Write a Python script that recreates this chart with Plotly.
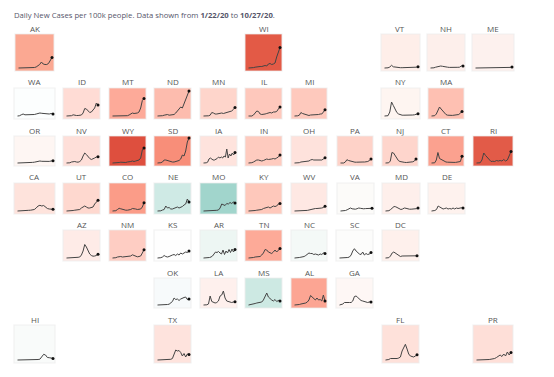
import plotly.graph_objects as go

W, H = 554, 377

title_plain = "Daily New Cases per 100k people. Data shown from "
date_start = "1/22/20"
date_end = "10/27/20"

AK = [0,0,0,0,.3,.3,.2,.3,.3,.5,1,2,3.5,6,4,3.5,3.5,4.5,7.5,10.5]
WI = [0,0,.2,.4,.8,1.2,1,1.5,1.5,2,2.5,2,4,4.5,3.5,4,5,11,15,20.5]
VT = [0,0,.2,1,2.7,1.2,.8,.5,.4,.3,.3,.3,.3,.3,.4,.4,.5,.5,.8,1.3]
NH = [0,0,.2,.8,1.2,1.8,2,1.7,1.2,1,.8,.6,.5,.5,.5,.6,.7,.8,2,2]
ME = [0,0,0,.2,.4,.5,.6,.6,.4,.3,.3,.3,.3,.3,.3,.3,.3,.3,.6,1]
WA = [0,.2,1.2,2,1.2,1.2,1,1,1.5,1.5,2,2.5,3,2.7,2.5,2,2.3,2,2.5,2]
ID = [0,0,0,.3,1.2,.5,.5,.5,.5,1,3,7.5,7,5,3.5,4,6,8,13,11]
MT = [0,0,0,.3,.3,0,0,0,0,.3,1,2,3,2.5,2.5,3,4,8,15.5,17.5]
ND = [0,0,0,.3,.8,1.5,1.5,.8,.8,1,1.5,3,5,6,9,8,12,17,21,25]
MN = [0,0,0,.2,.8,3.5,3,2,2,2.5,3,3,2.5,3,3.5,4,4,5,6.5,8.5]
IL = [0,0,0,1,3,5,4.5,2,1.5,1.5,2,2.5,3,3.5,3,4,4,4.5,7,9]
MI = [0,0,.2,.8,3.5,2.5,2,1.5,.8,.5,1,1,1.5,1.5,1.5,1.5,2,2,4,6.2]
NY = [0,0,.3,4,14,10.5,6,3.5,2,1.2,.8,.8,.7,.7,.7,.8,1,1.2,1.8,2.3]
MA = [0,0,.3,2,6,9,7,5,3,1.5,.8,.6,.6,.6,.8,1,1,1.5,3,4.5]
OR = [0,0,0,.1,.2,.2,.2,.4,.6,.8,1.2,2,2,1.7,1.5,1.3,1.5,1.6,2,2.3]
NV = [0,0,.2,1,1.5,1.5,1,.8,1.5,3,7,10,8.5,6,4.5,3.5,4,5,6,6.3]
WY = [0,0,.2,.3,.5,.8,.5,.5,.5,1,1,1.5,2,1.5,2,2.5,3,5,13,15]
SD = [0,0,.3,1,3,3,2.5,1.5,1,1,1,1.5,2,2.5,4,8,7,12,21,25]
IA = [0,0,.2,.8,4,5,3.5,3,3,3.5,4.5,6,5,6,5,7,6,14,5,9,7,10,8,10.5]
IN = [0,0,.3,1,2,3,3,2.5,2,2.5,3,4,3.5,3.5,4,4.5,4,5,6,8]
OH = [0,0,0,.3,1,1.2,1,1,1.5,2,3,3.5,3,3,2.8,2.5,2.5,3,4,5.3]
PA = [0,0,0,1,3.3,2.5,2,1.2,1,.8,.8,1,1,1,1,1,1.2,1.5,2.5,4]
NJ = [0,0,.2,2,10.5,10,7,4,2.5,1.5,1,.8,.6,.5,.5,.6,.8,1.2,2,4]
CT = [0,0,.2,3,10.5,4.5,3.5,2.5,1.5,1,.8,.6,.5,.5,.6,.6,1,1,1.5,6.8]
RI = [0,0,.2,3,10,7.5,5.5,3.5,1.5,1.8,1.5,2.5,2,2.5,2,3.5,2,3,7,11.5]
CA = [0,0,0,.2,.5,.5,.7,.8,1,1.5,3,5,5.7,5,5.5,4,2.5,2,1.8,1.7]
UT = [0,0,.2,.5,.5,.8,1,1,1.5,3,4.5,5,4,3,3,3.5,4,7,9,10.7]
CO = [0,0,.3,1.5,2.7,2.2,1.5,1,.8,.8,1,1.5,2.5,2.5,2,1.5,1.5,2,4,8.3]
NE = [0,0,.2,1,1.5,5,3,3.5,2,2,2.5,3,4,3,3.5,4.5,6,7,12,9]
MO = [0,0,0,.3,.3,.5,.5,.5,.7,1,3,7,6,5.5,7.5,7,8.5,7.5,9,8]
KY = [0,0,0,.3,.5,.8,.8,1,1.5,2.5,3,3,4,3,4,5,4.5,5,7,7.5]
WV = [0,0,0,.1,.2,.3,.4,.5,.6,1,1.5,2,2.2,2.5,2.5,2.5,2.7,3,3.5,4.7]
VA = [0,0,.1,.5,1.2,2.5,3,2.2,1.8,1.8,2.3,3,2.7,2.3,2.2,2.4,2.3,2.2,2.5,2.7]
MD = [0,0,.3,1.5,3,4.5,4.2,3,2,1.5,2,3,2.7,2,1.8,1.8,1.8,2,2.3,3]
DE = [0,0,.5,1.5,5,4,3,2,2.5,3,2,2.5,2,3,2,3,2.5,3,3.2,3]
AZ = [0,0,0,.2,.3,.5,.6,.7,1,3,7,13.5,11,7,4,2.5,1.8,2,2.5,3.8]
NM = [0,0,.3,1,1.5,1.5,1,1.2,1.5,1.8,1.5,2,3.2,2.5,1.5,1.2,1.5,2,5,8.3]
KS = [0,0,.3,1,2.5,1.5,1,1.5,2.5,3,3.5,2.5,4,3,5,4,5,6,5.5,7]
AR = [0,0,0,.3,.5,1,2,4,6,5.5,6.5,5,4,8,3.5,7,5,8.5,5.5,9,6,8.5]
TN = [0,0,.2,.5,1,1,1.2,1.5,3,5,8.5,8,6,5.5,4.5,6,8,6,8,9.5]
NC = [0,0,.2,.5,.8,1,1.5,2.5,4,5,4.5,4.5,3.5,4,3.5,3,4,3.5,5,4.5]
SC = [0,0,0,.2,.3,.5,1,3,7,9.3,7,5,4,3.5,6,3,4.5,3.5,4,5.5]
DC = [0,0,.3,2,5,6,5,3.5,2.5,1.5,2,2,1.5,1.7,1.5,1.5,1.5,2,2,2.2]
OK = [0,0,0,.1,.2,.3,.5,.8,2,3.5,7,5.5,6,4.5,6,7,7.5,8,5.5,6]
LA = [0,0,.2,1,9,3.5,2.5,2,2.5,4,9,10,14,7,4,3.5,3,2.5,3,3.3]
MS = [0,.2,.5,1,1.5,2,2.5,3,3,5,9,12,8,6,5,4,5.5,3.5,4.5,4]
AL = [0,0,.3,.5,1,1.2,1.5,2,3,5,9.5,8,7,5,7,5,5.5,4,10,4]
GA = [0,.3,1,2.5,2.3,2.3,2.5,2.5,4,8.5,9,7.5,6,4.5,4,3.5,3,2.5,3,3]
HI = [0,0,0,.1,.2,.1,.1,.1,.1,.2,.3,.5,.8,3,5.7,5,2.5,2.3,1.8,1.6]
TX = [0,0,0,.1,.2,.3,.5,.5,.7,1.5,5,10,9,9.5,7.5,4,6.5,3,6,5.5]
FL = [0,.1,.5,1.5,1.5,1,1.2,1.5,2,3,9,13,15.7,11,6,4,3.5,3,4,5.3]
PR = [0,0,0,0,.1,.2,.3,.5,.8,1,1.5,2.5,3.5,5,3.5,6,4,8,5,7.5]

series = {
    "AK":AK,"WI":WI,"VT":VT,"NH":NH,"ME":ME,"WA":WA,"ID":ID,"MT":MT,"ND":ND,"MN":MN,"IL":IL,"MI":MI,
    "NY":NY,"MA":MA,"OR":OR,"NV":NV,"WY":WY,"SD":SD,"IA":IA,"IN":IN,"OH":OH,"PA":PA,"NJ":NJ,"CT":CT,
    "RI":RI,"CA":CA,"UT":UT,"CO":CO,"NE":NE,"MO":MO,"KY":KY,"WV":WV,"VA":VA,"MD":MD,"DE":DE,"AZ":AZ,
    "NM":NM,"KS":KS,"AR":AR,"TN":TN,"NC":NC,"SC":SC,"DC":DC,"OK":OK,"LA":LA,"MS":MS,"AL":AL,"GA":GA,
    "HI":HI,"TX":TX,"FL":FL,"PR":PR,
}

colors = {
    "AK":"#fba892","WI":"#e35a46","VT":"#feeee9","NH":"#fdefeb","ME":"#fdf1ee","WA":"#fcfefe","ID":"#ffdcd5",
    "MT":"#fdaa99","ND":"#fdbcae","MN":"#fed5cb","IL":"#fec8bc","MI":"#fec9bd","NY":"#fef5f1","MA":"#fec0b2",
    "OR":"#fef6f3","NV":"#fedfd9","WY":"#de4f3e","SD":"#f88e79","IA":"#fee3dd","IN":"#fecbbf","OH":"#fee2dc",
    "PA":"#fed2c8","NJ":"#fed5cc","CT":"#fba18f","RI":"#e25b48","CA":"#fee3dc","UT":"#fed8cf","CO":"#fb9c88",
    "NE":"#cfeae5","MO":"#a1d5cc","KY":"#fec8bb","WV":"#fee8e3","VA":"#fcfbf9","MD":"#feefeb","DE":"#fef2ee",
    "AZ":"#feebe7","NM":"#fecdc3","KS":"#fefefe","AR":"#edf6f3","TN":"#fdaa98","NC":"#f4f9f7","SC":"#fcfcfb",
    "DC":"#fef0ec","OK":"#f7fafb","LA":"#fef0ed","MS":"#cde9e3","AL":"#fca593","GA":"#fef7f5","HI":"#f9fbfa",
    "TX":"#fee3dd","FL":"#fee1da","PR":"#fedfd8",
}

# panel boxes in pixels: (left, right) per state, (top, bottom) per row
rows = [
    ((34, 71), {"AK":(15,54),"WI":(245,282),"VT":(381,420),"NH":(427,465),"ME":(472,514)}),
    ((88, 119), {"WA":(14,55),"ID":(63,100),"MT":(109,146),"ND":(154,191),"MN":(200,237),"IL":(245,282),
                 "MI":(291,327),"NY":(381,420),"MA":(428,464)}),
    ((136, 166), {"OR":(14,55),"NV":(63,100),"WY":(109,146),"SD":(154,191),"IA":(200,237),"IN":(245,282),
                  "OH":(291,327),"PA":(337,373),"NJ":(382,418),"CT":(428,464),"RI":(473,513)}),
    ((183, 214), {"CA":(14,55),"UT":(63,100),"CO":(109,146),"NE":(154,191),"MO":(200,237),"KY":(245,282),
                  "WV":(291,327),"VA":(337,374),"MD":(382,420),"DE":(428,465)}),
    ((230, 261), {"AZ":(63,100),"NM":(109,146),"KS":(154,191),"AR":(200,237),"TN":(245,282),"NC":(291,327),
                  "SC":(336,373),"DC":(382,419)}),
    ((278, 308), {"OK":(154,191),"LA":(200,237),"MS":(245,282),"AL":(291,327),"GA":(336,373)}),
    ((325, 363), {"HI":(14,55),"TX":(154,191),"FL":(382,419),"PR":(473,513)}),
]

fig = go.Figure()
shapes, annotations = [], []
layout = {}
idx = 0
for (top, bottom), states in rows:
    for st, (left, right) in states.items():
        idx += 1
        suffix = "" if idx == 1 else str(idx)
        vals = series[st]
        n = len(vals)
        xs = [i / (n - 1) for i in range(n)]
        fig.add_trace(go.Scatter(x=xs, y=vals, mode="lines", xaxis="x"+suffix, yaxis="y"+suffix,
                                 line=dict(color="#444444", width=1), hoverinfo="skip", showlegend=False))
        fig.add_trace(go.Scatter(x=[xs[-1]], y=[vals[-1]], mode="markers", xaxis="x"+suffix, yaxis="y"+suffix,
                                 marker=dict(color="#111111", size=3), hoverinfo="skip", showlegend=False))
        h = bottom - top
        wd = right - left
        layout["xaxis"+suffix] = dict(domain=[left/W, right/W], range=[-3.5/(wd-5.5), 1+2/(wd-5.5)], visible=False,
                                      fixedrange=True, anchor="y"+suffix)
        layout["yaxis"+suffix] = dict(domain=[1-bottom/H, 1-top/H], range=[-3, h-3], visible=False,
                                      fixedrange=True, anchor="x"+suffix)
        shapes.append(dict(type="rect", xref="paper", yref="paper", x0=left/W, x1=right/W, y0=1-bottom/H, y1=1-top/H,
                           fillcolor=colors[st], line=dict(color="rgba(236,236,236,0.75)", width=1.2), layer="below"))
        annotations.append(dict(text=st, xref="paper", yref="paper", x=(left+right)/2/W, y=1-(top-6)/H, showarrow=False,
                                xanchor="center", yanchor="middle", font=dict(family="Open Sans", size=8, color="#555555")))

annotations.append(dict(text=f"{title_plain}<b>{date_start}</b> to <b>{date_end}</b>.", xref="paper", yref="paper",
                        x=11.5/W, y=1-15/H, showarrow=False, xanchor="left", yanchor="middle",
                        font=dict(family="Open Sans", size=7.7, color="#55556a")))

fig.update_layout(width=W, height=H, margin=dict(l=0, r=0, t=0, b=0), paper_bgcolor="white", plot_bgcolor="rgba(0,0,0,0)",
                  shapes=shapes, annotations=annotations, showlegend=False, **layout)
fig.write_html("out.html", config=dict(displayModeBar=False),
               post_script="document.body.style.margin='0';document.body.style.overflow='hidden';")
